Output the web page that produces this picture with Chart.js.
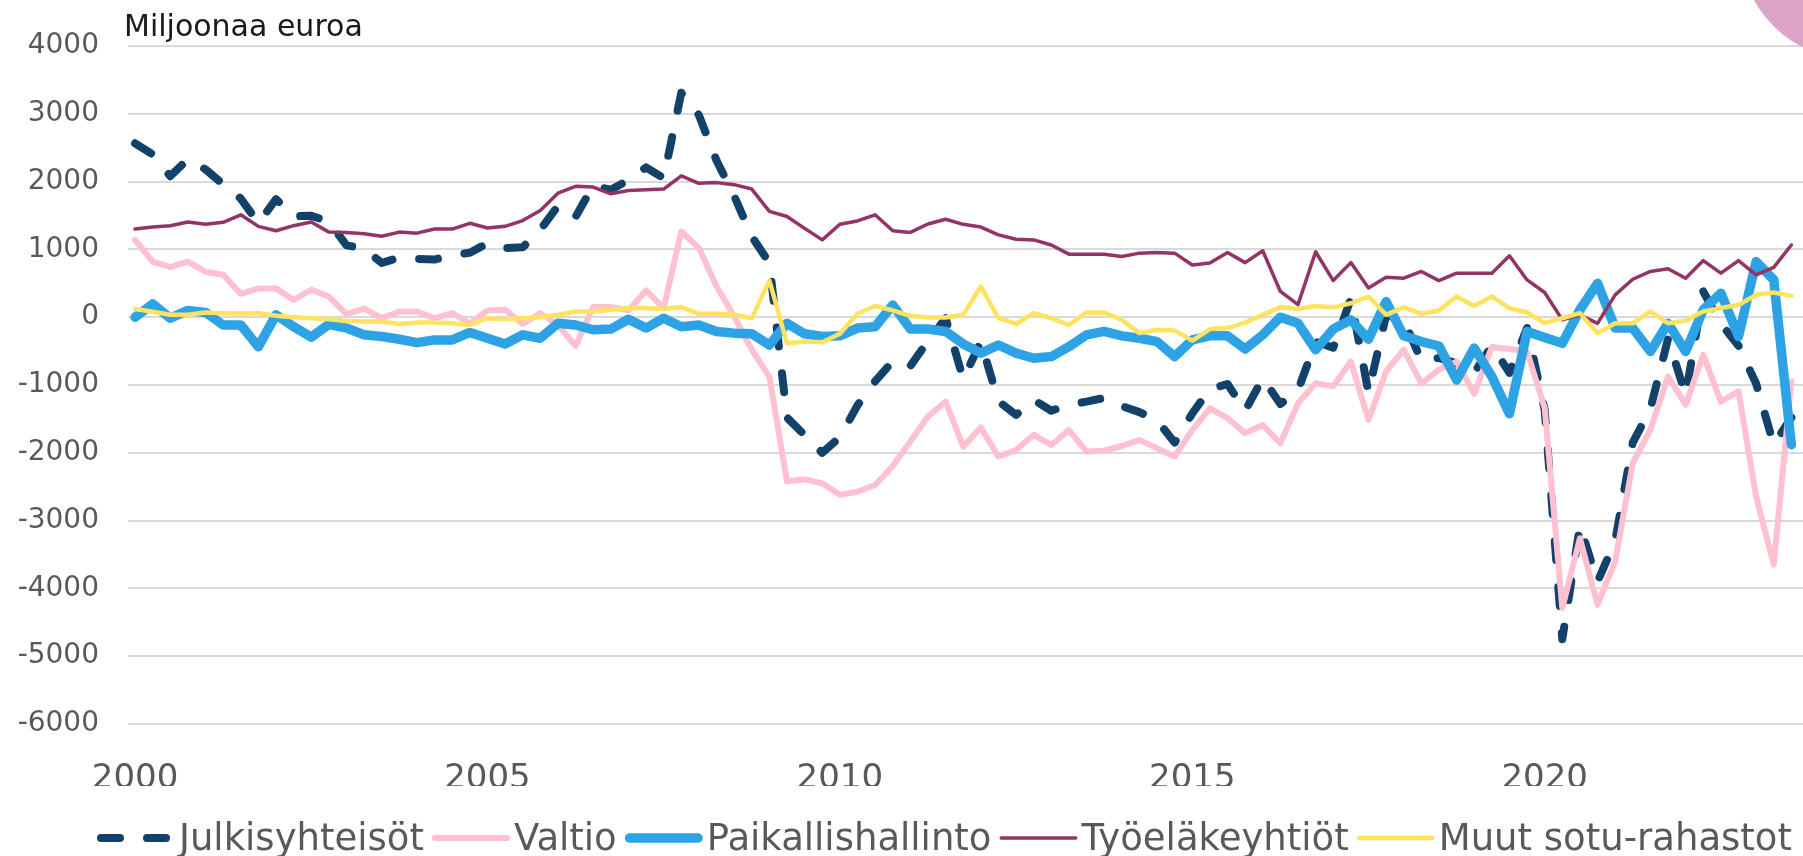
<!DOCTYPE html>
<html lang="fi">
<head>
<meta charset="utf-8">
<title>Julkisyhteisöjen rahoitusasema</title>
<script src="https://cdn.jsdelivr.net/npm/chart.js@4.4.1/dist/chart.umd.min.js"></script>
<style>
  html, body { margin: 0; padding: 0; background: #fff; }
  #wrap { position: relative; width: 1803px; height: 856px; overflow: hidden; }
  #corner { position: absolute; left: 1740px; top: -170px; width: 230px; height: 230px; border-radius: 50%; background: #dca3c6; }
</style>
</head>
<body>
<div id="wrap">
  <canvas id="chart" width="1803" height="856"></canvas>
  <div id="corner"></div>
</div>
<script>
// Quarterly figures 2000Q1 - 2023Q3, million euros
const quarters = [];
for (let y = 2000; y <= 2023; y++) {
    for (let q = 1; q <= 4; q++) {
        if (y === 2023 && q === 4) break;
        quarters.push(y + 'Q' + q);
    }
}

// x axis labels sit on the first quarter of every fifth year
const tickIndex = [0, 20, 40, 60, 80];
const tickLabels = ['2000', '2005', '2010', '2015', '2020'];

const julkisyhteisot = [
    2565, 2400, 2080, 2330, 2180, 1960, 1750, 1390, 1740, 1490,
    1495, 1410, 1060, 1010, 800, 880, 860, 850, 920, 950,
    1090, 1020, 1030, 1290, 1640, 1480, 1940, 1880, 2020, 2210,
    2050, 3310, 2980, 2310, 1790, 1190, 800, -1480, -1740, -2000,
    -1770, -1300, -945, -650, -720, -350, -15, -910, -365, -1240,
    -1440, -1220, -1380, -1290, -1245, -1190, -1310, -1400, -1520, -1850,
    -1420, -1060, -985, -1380, -900, -1280, -1080, -360, -450, 270,
    -1110, 30, -40, -640, -600, -680, -820, -420, -820, -160,
    -1370, -4750, -3080, -3900, -3300, -1850, -1350, -320, -1150, 380,
    -95, -420, -980, -1880, -1480
];

const valtio = [
    1140, 820, 740, 820, 670, 625, 345, 425, 425, 255,
    405, 305, 45, 125, -15, 85, 85, -15, 60, -90,
    100, 110, -100, 60, -115, -425, 150, 150, 100, 395,
    135, 1265, 1020, 455, 10, -480, -880, -2420, -2390, -2450,
    -2620, -2575, -2475, -2195, -1835, -1465, -1245, -1910, -1625, -2055,
    -1960, -1735, -1885, -1665, -1980, -1970, -1900, -1810, -1935, -2055,
    -1665, -1345, -1490, -1710, -1590, -1860, -1270, -975, -1020, -655,
    -1515, -800, -480, -975, -775, -655, -1130, -440, -470, -505,
    -1340, -4290, -3260, -4240, -3600, -2150, -1660, -875, -1290, -555,
    -1245, -1095, -2645, -3650, -950
];

const paikallishallinto = [
    0, 195, -15, 100, 70, -115, -115, -435, 35, -140,
    -295, -105, -160, -260, -285, -325, -375, -335, -335, -225,
    -310, -395, -260, -310, -90, -115, -185, -175, -30, -160,
    -15, -140, -115, -210, -235, -245, -410, -90, -245, -285,
    -275, -160, -140, 180, -175, -175, -210, -395, -530, -410,
    -530, -605, -580, -435, -260, -210, -275, -310, -360, -580,
    -335, -275, -275, -470, -260, 0, -90, -480, -175, -40,
    -325, 230, -275, -360, -425, -925, -455, -875, -1425, -210,
    -300, -385, 110, 500, -160, -160, -505, -90, -505, 110,
    355, -285, 820, 550, -1880
];

const tyoelakeyhtiot = [
    1300, 1330, 1350, 1405, 1370, 1400, 1510, 1340, 1275, 1350,
    1405, 1255, 1250, 1230, 1195, 1255, 1240, 1300, 1300, 1385,
    1315, 1340, 1425, 1575, 1830, 1930, 1920, 1820, 1870, 1880,
    1890, 2085, 1975, 1985, 1955, 1890, 1560, 1485, 1310, 1140,
    1370, 1420, 1510, 1275, 1250, 1375, 1445, 1370, 1330, 1215,
    1150, 1140, 1065, 930, 930, 930, 895, 945, 955, 945,
    770, 800, 955, 805, 980, 380, 185, 965, 540, 805,
    430, 590, 575, 675, 540, 650, 650, 650, 905, 550,
    365, -40, 35, -90, 330, 560, 675, 715, 575, 835,
    650, 835, 625, 735, 1065
];

const muutSotu = [
    120, 80, 35, 35, 70, 60, 55, 60, 20, 0,
    -15, -30, -55, -65, -65, -100, -80, -80, -90, -115,
    -15, -30, -15, 0, 35, 85, 85, 110, 135, 135,
    120, 150, 50, 50, 35, -15, 540, -385, -360, -370,
    -245, 50, 165, 100, 20, -5, -5, 35, 455, -15,
    -100, 60, -15, -115, 70, 70, -40, -235, -185, -195,
    -345, -175, -160, -80, 35, 150, 120, 165, 145, 205,
    305, 35, 145, 50, 100, 305, 165, 305, 135, 70,
    -85, -15, 60, -235, -90, -90, 85, -90, -50, 85,
    135, 180, 330, 365, 315
];

const textColor = '#595959';
const fontFamily = '"DejaVu Sans", "Open Sans", sans-serif';

function points(values) {
    return values.map((v, i) => ({ x: i, y: v }));
}

// Unit label above the plot
const unitTitle = {
    id: 'unitTitle',
    afterDraw(chart) {
        const ctx = chart.ctx;
        ctx.save();
        ctx.font = '30px ' + fontFamily;
        ctx.fillStyle = '#1a1a1a';
        ctx.textBaseline = 'alphabetic';
        ctx.fillText('Miljoonaa euroa', chart.chartArea.left - 4, 36);
        ctx.restore();
    }
};

// Legend row at the bottom, line samples drawn with each series' own style
const lineLegend = {
    id: 'lineLegend',
    afterDraw(chart) {
        const ctx = chart.ctx;
        ctx.save();
        ctx.font = '37px ' + fontFamily;
        ctx.textBaseline = 'alphabetic';
        let x = 97;
        chart.data.datasets.forEach(ds => {
            const w = ds.borderWidth;
            ctx.strokeStyle = ds.borderColor;
            ctx.lineWidth = w;
            ctx.lineCap = 'round';
            ctx.setLineDash(ds.borderDash || []);
            ctx.beginPath();
            ctx.moveTo(x + w / 2, 838);
            ctx.lineTo(x + 78 - w / 2, 838);
            ctx.stroke();
            ctx.setLineDash([]);
            ctx.fillStyle = textColor;
            ctx.fillText(ds.label, x + 82, 850);
            x += 82 + ctx.measureText(ds.label).width + 8;
        });
        ctx.restore();
    }
};

new Chart(document.getElementById('chart'), {
    type: 'line',
    data: {
        labels: quarters,
        datasets: [
            {
                label: 'Julkisyhteisöt',
                data: points(julkisyhteisot),
                borderColor: '#12426a',
                borderWidth: 8,
                borderDash: [19, 27],
                order: 5
            },
            {
                label: 'Valtio',
                data: points(valtio),
                borderColor: '#ffc0cf',
                borderWidth: 6,
                order: 4
            },
            {
                label: 'Paikallishallinto',
                data: points(paikallishallinto),
                borderColor: '#2da3e6',
                borderWidth: 9.5,
                order: 3
            },
            {
                label: 'Työeläkeyhtiöt',
                data: points(tyoelakeyhtiot),
                borderColor: '#923466',
                borderWidth: 3.5,
                order: 2
            },
            {
                label: 'Muut sotu-rahastot',
                data: points(muutSotu),
                borderColor: '#ffe25f',
                borderWidth: 4.5,
                order: 1
            }
        ]
    },
    options: {
        responsive: false,
        animation: false,
        devicePixelRatio: 1,
        layout: { padding: { top: 46, right: 0, bottom: 70, left: 0 } },
        elements: {
            point: { radius: 0 },
            line: { tension: 0, borderJoinStyle: 'round', borderCapStyle: 'round', fill: false }
        },
        plugins: {
            legend: { display: false },
            tooltip: { enabled: false }
        },
        scales: {
            x: {
                type: 'linear',
                min: -0.4,
                max: 94.66,
                grid: { display: false },
                border: { display: false },
                afterBuildTicks: scale => {
                    scale.ticks = tickIndex.map(v => ({ value: v }));
                },
                afterFit: scale => { scale.height = 62; },
                ticks: {
                    autoSkip: false,
                    maxRotation: 0,
                    padding: 27,
                    color: textColor,
                    font: { family: fontFamily, size: 34 },
                    callback: v => tickLabels[tickIndex.indexOf(v)]
                }
            },
            y: {
                min: -6000,
                max: 4000,
                grid: { color: '#d9d9d9', lineWidth: 2, drawTicks: false },
                border: { display: false },
                afterFit: scale => { scale.width = 128; },
                ticks: {
                    stepSize: 1000,
                    padding: 29,
                    color: textColor,
                    font: { family: fontFamily, size: 28 },
                    callback: v => String(v)
                }
            }
        }
    },
    plugins: [unitTitle, lineLegend]
});
</script>
</body>
</html>
